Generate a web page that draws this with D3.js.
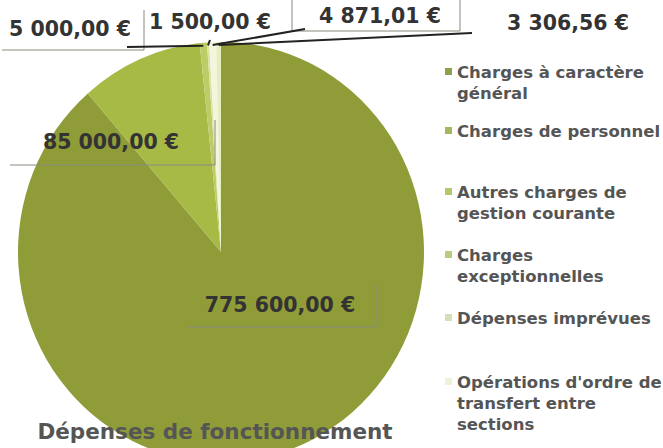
<!DOCTYPE html>
<html>
<head>
	<script src="https://cdn.jsdelivr.net/npm/d3@7"></script>
	<style>
		html, body {
			padding: 0;
			margin: 0;
			background: #ffffff;
		}
		text {
			font-family: "DejaVu Sans", Verdana, sans-serif;
			font-weight: bold;
		}
	</style>
</head>
<body>
	<script>
		var width = 663;
		var height = 448;

		// ~ ~ ~ DATA ~ ~ ~
		const categories = [
			"Charges à caractère général",
			"Charges de personnel",
			"Autres charges de gestion courante",
			"Charges exceptionnelles",
			"Dépenses imprévues",
			"Opérations d'ordre de transfert entre sections"
		];
		const values = [775600, 85000, 5000, 1500, 4871.01, 3306.56];
		const title = "Dépenses de fonctionnement";

		// ~ ~ ~ STYLE / LAYOUT ~ ~ ~
		const SLICE_COLORS = ["#8f9c38", "#a8ba46", "#bccd68", "#d9e3a0", "#f4f5dc", "#e6edbe"];
		const LEGEND_COLORS = ["#8f9f4c", "#a3b85a", "#b2c86a", "#b9cd7e", "#d3dfb4", "#eef2d6"];
		const CENTER = { x: 221, y: 252 };
		const RADIUS = 203;
		const SQUASH = 1.035;

		// label positions (text centre) and their thin frame lines
		const LABEL_LAYOUT = [
			{ x: 280, y: 305, frame: [[187, 327], [376, 327], [376, 283]] },
			{ x: 111, y: 142, frame: [[10, 165], [215, 165], [215, 120]] },
			{ x: 70, y: 29, frame: [[2, 50], [144, 50], [144, 10]], leader: [127, 47] },
			{ x: 210, y: 22, leader: [210, 40] },
			{ x: 380, y: 16, frame: [[292, 0], [292, 31], [460, 31], [460, 0]], leader: [305, 29] },
			{ x: 568, y: 23, leader: [472, 33] }
		];
		const LEGEND_Y = [72, 131, 192, 255, 318, 382];

		var svg = d3.select("body").append("svg")
			.attr("width", width)
			.attr("height", height);

		var fr = d3.formatLocale({
			decimal: ",",
			thousands: "\u00a0",
			grouping: [3],
			currency: ["", "\u00a0€"]
		});
		var fmt = fr.format("$,.2f");

		var pie = d3.pie().sort(null).value((d) => d);
		var arcs = pie(values);
		var arc = d3.arc().innerRadius(0).outerRadius(RADIUS);

		var pieG = svg.append("g")
			.attr("transform", "translate(" + CENTER.x + "," + CENTER.y + ") scale(1," + SQUASH + ")");

		pieG.selectAll("path")
			.data(arcs)
			.enter().append("path")
			.attr("d", arc)
			.attr("fill", (d, i) => SLICE_COLORS[i]);

		// point on the pie rim at the middle of a slice (in page coords)
		var rimPoint = function(d) {
			var a = (d.startAngle + d.endAngle) / 2;
			return [CENTER.x + RADIUS * Math.sin(a), CENTER.y - RADIUS * SQUASH * Math.cos(a) + 3];
		};

		var line = d3.line();

		// thin frames round the labels
		LABEL_LAYOUT.forEach(function(l) {
			if (l.frame)
				svg.append("path")
					.attr("d", line(l.frame))
					.attr("fill", "none")
					.attr("stroke", "#8a8a80")
					.attr("stroke-width", 1);
		});

		// leader lines
		arcs.forEach(function(d, i) {
			var l = LABEL_LAYOUT[i];
			if (!l.leader) return;
			var p = rimPoint(d);
			svg.append("path")
				.attr("d", line([l.leader, p]))
				.attr("fill", "none")
				.attr("stroke", "#222")
				.attr("stroke-width", 2);
		});

		// value labels
		svg.selectAll("text.value")
			.data(arcs)
			.enter().append("text")
			.attr("class", "value")
			.attr("x", (d, i) => LABEL_LAYOUT[i].x)
			.attr("y", (d, i) => LABEL_LAYOUT[i].y)
			.attr("text-anchor", "middle")
			.attr("dominant-baseline", "central")
			.attr("font-size", 20.5)
			.attr("fill", "#333")
			.text((d) => fmt(d.data));

		// legend
		var legend = svg.append("g");
		categories.forEach(function(c, i) {
			var y0 = LEGEND_Y[i];
			legend.append("rect")
				.attr("x", 445)
				.attr("y", y0 - 4)
				.attr("width", 7)
				.attr("height", 7)
				.attr("fill", LEGEND_COLORS[i]);
			var t = legend.append("text")
				.attr("x", 457)
				.attr("y", y0)
				.attr("dominant-baseline", "central")
				.attr("font-size", 16.5)
				.attr("fill", "#555");
			// wrap words to the space on the right
			var words = c.split(" ");
			var lineWords = [];
			var tspan = t.append("tspan").attr("x", 457).attr("dy", 0);
			words.forEach(function(w) {
				lineWords.push(w);
				tspan.text(lineWords.join(" "));
				if (tspan.node().getComputedTextLength() > 206 && lineWords.length > 1) {
					lineWords.pop();
					tspan.text(lineWords.join(" "));
					lineWords = [w];
					tspan = t.append("tspan").attr("x", 457).attr("dy", 21).text(w);
				}
			});
		});

		// title
		svg.append("text")
			.attr("x", 215)
			.attr("y", 431)
			.attr("text-anchor", "middle")
			.attr("dominant-baseline", "central")
			.attr("font-size", 21.5)
			.attr("fill", "#555")
			.text(title);
	</script>
</body>
</html>
